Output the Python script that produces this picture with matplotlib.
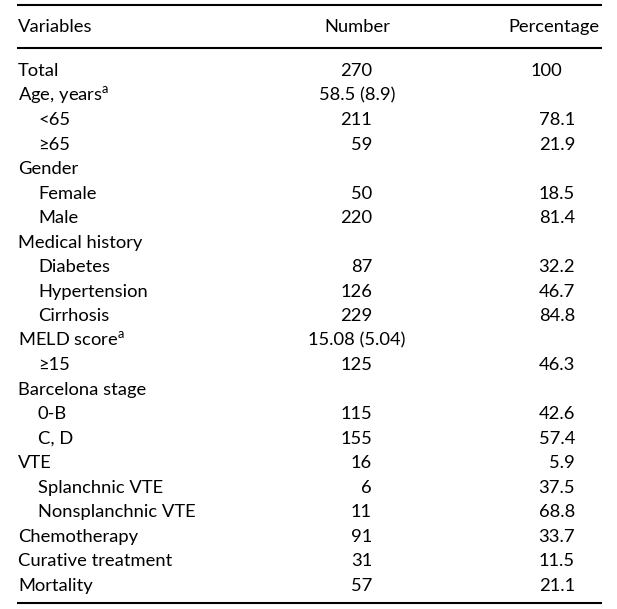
import matplotlib.pyplot as plt
import matplotlib as mpl

mpl.rcParams['font.family'] = ['Lato', 'DejaVu Sans']
mpl.rcParams['mathtext.fontset'] = 'custom'
mpl.rcParams['mathtext.rm'] = 'Lato'

headers = ['Variables', 'Number', 'Percentage']
variables = ['Total', 'Age, years$^{\\mathrm{a}}$', '<65', '\u226565', 'Gender', 'Female', 'Male',
             'Medical history', 'Diabetes', 'Hypertension', 'Cirrhosis', 'MELD score$^{\\mathrm{a}}$',
             '\u226515', 'Barcelona stage', '0-B', 'C, D', 'VTE', 'Splanchnic VTE',
             'Nonsplanchnic VTE', 'Chemotherapy', 'Curative treatment', 'Mortality']
indent = [0, 0, 1, 1, 0, 1, 1, 0, 1, 1, 1, 0, 1, 0, 1, 1, 0, 1, 1, 0, 0, 0]
numbers = ['270', '58.5 (8.9)', '211', '59', '', '50', '220', '', '87', '126', '229',
           '15.08 (5.04)', '125', '', '115', '155', '16', '6', '11', '91', '31', '57']
percents = ['100', '', '78.1', '21.9', '', '18.5', '81.4', '', '32.2', '46.7', '84.8',
            '', '46.3', '', '42.6', '57.4', '5.9', '37.5', '68.8', '33.7', '11.5', '21.1']

W, H = 617, 609
fig = plt.figure(figsize=(W / 100, H / 100), dpi=100)
ax = fig.add_axes([0, 0, 1, 1])
ax.set_xlim(0, W)
ax.set_ylim(H, 0)
ax.axis('off')

fs = 13.2
lw = 1.5
ax.plot([17, 602], [4.5, 4.5], color='black', lw=lw, solid_capstyle='butt')
ax.plot([17, 602], [47.5, 47.5], color='black', lw=lw, solid_capstyle='butt')
ax.plot([17, 602], [602.5, 602.5], color='black', lw=lw, solid_capstyle='butt')

ax.text(18, 32, headers[0], fontsize=fs, va='baseline', ha='left')
ax.text(357, 32, headers[1], fontsize=fs, va='baseline', ha='center')
ax.text(600, 32, headers[2], fontsize=fs, va='baseline', ha='right')

for i, lab in enumerate(variables):
    y = 76 + 24.52 * i
    ax.text(38 if indent[i] else 18, y, lab, fontsize=fs, va='baseline', ha='left')
    n = numbers[i]
    if '(' in n:
        ax.text(357, y, n, fontsize=fs, va='baseline', ha='center')
    elif n:
        ax.text(372, y, n, fontsize=fs, va='baseline', ha='right')
    p = percents[i]
    if p and '.' not in p:
        ax.text(546, y, p, fontsize=fs, va='baseline', ha='center')
    elif p:
        ax.text(575, y, p, fontsize=fs, va='baseline', ha='right')

fig.savefig('out.png', dpi=100)
